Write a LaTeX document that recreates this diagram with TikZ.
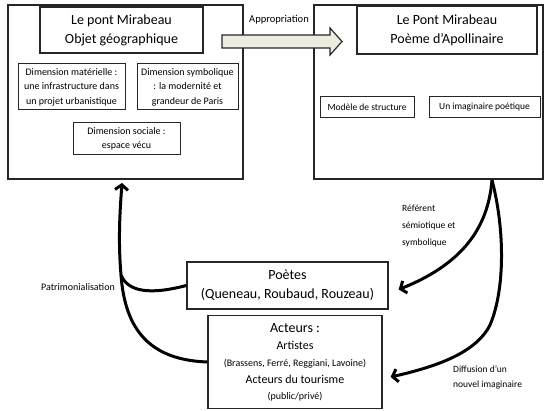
\documentclass[tikz,border=0pt]{standalone}
\usepackage{fontspec}
\setmainfont{Carlito}
\usetikzlibrary{arrows.meta,calc}
\definecolor{arrowfill}{HTML}{EEECE1}
\definecolor{boxline}{HTML}{262626}
\newcommand{\rowstrut}[2]{\rule[-#1]{0pt}{#2}}
\tikzset{
  bigbox/.style={draw=boxline, line width=1.5pt, inner sep=0pt},
  titlebox/.style={draw=boxline, line width=1.8pt, inner sep=0pt, align=center, font=\fontsize{14}{19}\selectfont},
  smallbox/.style={draw=boxline, line width=1pt, inner sep=0pt, align=center, font=\fontsize{10}{14.5}\selectfont},
  lbl/.style={inner sep=0pt, font=\fontsize{9.5}{15}\selectfont},
  flow/.style={line width=3pt, -{Straight Barb[length=5pt,width=13pt,line width=3pt]}},
  flowplain/.style={line width=3pt}
}
\begin{document}
\begin{tikzpicture}[x=1pt,y=-1pt]
\useasboundingbox (0,0) rectangle (544,411);
% left block
\node[bigbox, minimum width=235pt, minimum height=174pt] (geo) at (125.5,92) {};
\node[titlebox, minimum width=163pt, minimum height=46pt] (geot) at (121.5,30) {Le pont Mirabeau\\Objet géographique};
\node[smallbox, minimum width=107pt, minimum height=46pt] (mat) at (71.5,87) {Dimension matérielle :\\une infrastructure dans\\un projet urbanistique};
\node[smallbox, minimum width=101pt, minimum height=46pt] (sym) at (187.5,87) {Dimension symbolique\\: la modernité et\\grandeur de Paris};
\node[smallbox, minimum width=107pt, minimum height=32pt] (soc) at (126.5,139) {Dimension sociale :\\espace vécu};
% right block
\node[bigbox, minimum width=229pt, minimum height=174pt] (poem) at (428.5,92) {};
\node[titlebox, minimum width=180pt, minimum height=48pt] (poemt) at (447,30) {Le Pont Mirabeau\\Poème d’Apollinaire};
\node[smallbox, font=\fontsize{9.5}{12}\selectfont, minimum width=94pt, minimum height=21pt] (mod) at (367,107.5) {Modèle de structure};
\node[smallbox, font=\fontsize{9.5}{12}\selectfont, minimum width=111pt, minimum height=21pt] (ima) at (484.5,107.5) {Un imaginaire poétique};
% appropriation block arrow
\draw[draw=boxline, line width=1.2pt, fill=arrowfill, line join=miter]
  (222,35) -- (330,35) -- (330,28) -- (342,41.5) -- (330,55) -- (330,48) -- (222,48) -- cycle;
\node[lbl, font=\fontsize{10.5}{12}\selectfont] (appr) at (279,20) {Appropriation};
% bottom boxes
\node[bigbox, line width=1.3pt, minimum width=201pt, minimum height=47pt, align=center, font=\fontsize{14}{19}\selectfont] (poetes) at (287.5,285.5) {Poètes\\(Queneau, Roubaud, Rouzeau)};
\node[bigbox, line width=1.3pt, minimum width=174pt, minimum height=93pt] (act) at (295,362)
  {\begin{tabular}{@{}c@{}}
   \fontsize{14}{17}\selectfont\rowstrut{5pt}{17pt}Acteurs :\\
   \fontsize{12}{17}\selectfont\rowstrut{5pt}{17pt}Artistes\\
   \fontsize{10}{17}\selectfont\rowstrut{5pt}{17pt}(Brassens, Ferré, Reggiani, Lavoine)\\
   \fontsize{12}{17}\selectfont\rowstrut{5pt}{17pt}Acteurs du tourisme\\
   \fontsize{10}{15}\selectfont\rowstrut{4pt}{15pt}(public/privé)
   \end{tabular}};
% labels
\node[lbl, anchor=east, font=\fontsize{10}{12}\selectfont] (patr) at (115,287) {Patrimonialisation};
\node[lbl, anchor=north west, align=left, font=\fontsize{9.5}{17}\selectfont] (ref) at (402,205) {Référent\\sémiotique et\\symbolique};
\node[lbl, anchor=west, align=left, font=\fontsize{9.5}{15}\selectfont] (diff) at (453,377) {Diffusion d’un\\nouvel imaginaire};
% connectors
\coordinate (lt) at (122,183);
\coordinate (rs) at (492,180);
\coordinate (join) at (121,275);
\draw[flow] (act.west) .. controls (150,360) and (125,330) .. (join) .. controls (118,240) and (120,210) .. (lt);
\draw[flowplain] (poetes.west) .. controls (150,295) and (128,292) .. (join);
\draw[flow] (rs) .. controls (488,230) and (460,265) .. ($(poetes.east)+(10,4)$);
\draw[flow] (rs) .. controls (505,230) and (505,290) .. (490,325) .. controls (475,355) and (430,368) .. ($(act.east)+(8,15)$);
\end{tikzpicture}
\end{document}
